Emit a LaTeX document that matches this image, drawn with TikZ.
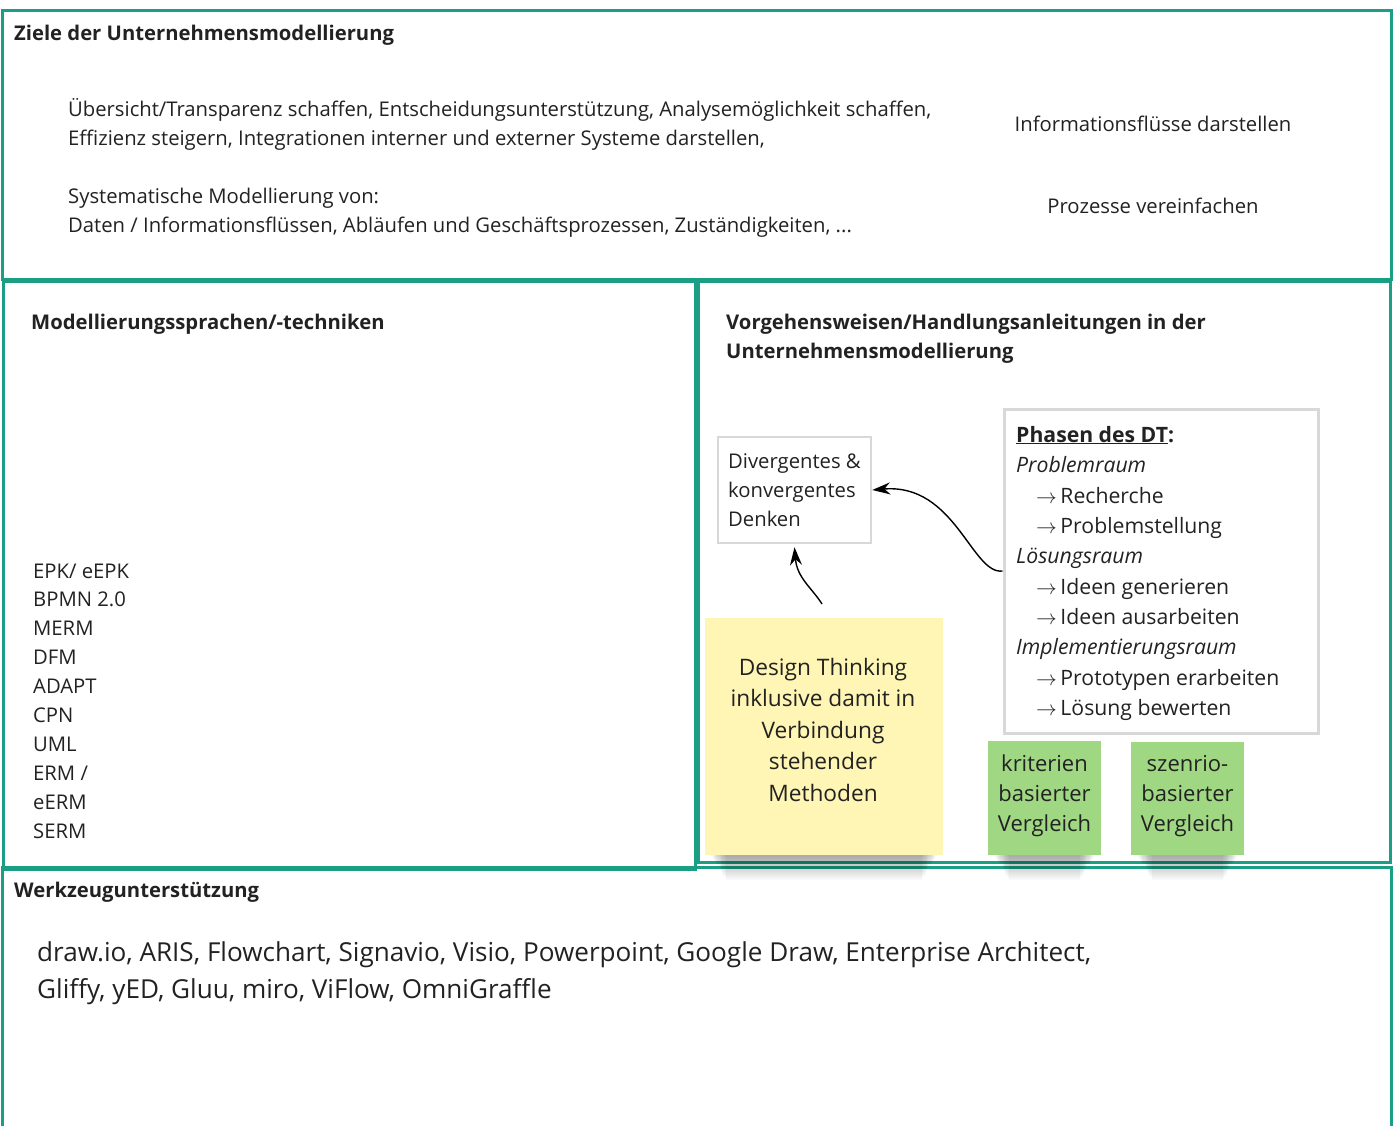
\documentclass[tikz,border=0pt]{standalone}
\usepackage{fontspec}
\setmainfont{Open Sans}
\usetikzlibrary{arrows.meta}
\definecolor{frame}{HTML}{1A9E84}
\definecolor{boxgray}{HTML}{D8D8D8}
\definecolor{stickyyellow}{HTML}{FFF6B5}
\definecolor{stickygreen}{HTML}{9FD783}
\definecolor{ink}{HTML}{222222}
\newcommand{\bodysize}{\fontsize{20.25}{24}\selectfont}
\newcommand{\phasesize}{\fontsize{21.2}{25}\selectfont}
\tikzset{
  panel/.style={draw=frame, line width=3pt},
  txt/.style={anchor=base west, inner sep=0pt, text=ink, font=\bodysize},
  head/.style={txt, font=\bodysize\bfseries},
  ctxt/.style={anchor=base, inner sep=0pt, text=ink, font=\bodysize},
  phase/.style={anchor=base west, inner sep=0pt, text=ink, font=\phasesize},
  sticky/.style={anchor=base, inner sep=0pt, text=ink},
  grayframe/.style={draw=boxgray, line width=3pt, fill=white},
  link/.style={line width=1.4pt, -{Stealth[length=18pt,width=12pt]}},
}
\newcommand{\ra}{$\rightarrow$\,}
\begin{document}
\begin{tikzpicture}[x=1pt,y=-1pt]
\useasboundingbox (0,0) rectangle (1395,1126);
\fill[white] (0,0) rectangle (1395,1126);

% panels
\begin{scope}
\clip (0,0) rectangle (1395,1126);
\draw[panel] (2,867) rectangle (1391,1140);
\end{scope}
\draw[panel] (2,11) rectangle (1391,279);
\draw[panel] (3,281) rectangle (695,869);
\draw[panel] (698,281) rectangle (1390,862);

% goals
\node[head] (zh) at (14,41) {Ziele der Unternehmensmodellierung};
\node[txt] (z1) at (68,117) {Übersicht/Transparenz schaffen, Entscheidungsunterstützung, Analysemöglichkeit schaffen,};
\node[txt] (z2) at (68,146) {Effizienz steigern, Integrationen interner und externer Systeme darstellen,};
\node[txt] (z3) at (68,204) {Systematische Modellierung von:};
\node[txt] (z4) at (68,233) {Daten / Informationsflüssen, Abläufen und Geschäftsprozessen, Zuständigkeiten, ...};
\node[ctxt] (z5) at (1153,132) {Informationsflüsse darstellen};
\node[ctxt] (z6) at (1153,214) {Prozesse vereinfachen};

% languages
\node[head] (mh) at (31,329) {Modellierungssprachen/-techniken};
\foreach \t [count=\i] in {EPK/ eEPK, BPMN 2.0, MERM, DFM, ADAPT, CPN, UML, ERM /, eERM, SERM}
  \node[txt] (m\i) at (33,{578+28.9*(\i-1)}) {\t};

% procedures
\node[head] (vh1) at (726,329) {Vorgehensweisen/Handlungsanleitungen in der};
\node[head] (vh2) at (726,358) {Unternehmensmodellierung};

\node[grayframe, line width=2.5pt, minimum width=153pt, minimum height=106pt] (div) at (794.5,490) {};
\node[txt] (d1) at (728,468) {Divergentes \&};
\node[txt] (d2) at (728,497) {konvergentes};
\node[txt] (d3) at (728,526) {Denken};

\node[grayframe, minimum width=314pt, minimum height=324pt] (phasen) at (1161,571) {};
\node[phase, font=\phasesize\bfseries] (p0) at (1016,442) {\underline{Phasen des DT}:};
\node[phase, font=\phasesize\itshape] (p1) at (1016,472) {Problemraum};
\node[phase] (p2) at (1036,503) {\ra Recherche};
\node[phase] (p3) at (1036,533) {\ra Problemstellung};
\node[phase, font=\phasesize\itshape] (p4) at (1016,563) {Lösungsraum};
\node[phase] (p5) at (1036,594) {\ra Ideen generieren};
\node[phase] (p6) at (1036,624) {\ra Ideen ausarbeiten};
\node[phase, font=\phasesize\itshape] (p7) at (1016,654) {Implementierungsraum};
\node[phase] (p8) at (1036,685) {\ra Prototypen erarbeiten};
\node[phase] (p9) at (1036,715) {\ra Lösung bewerten};

% soft shadows under the stickies
\foreach \xa/\xb/\yb in {705/943/853, 988/1101/853, 1131/1244/853}
  \foreach \k in {1,...,14}
    \fill[black, opacity=0.028] ({\xa+4+1.2*\k}, \yb) rectangle ({\xb-4-1.2*\k}, {\yb+1.9*\k});

% stickies
\fill[stickyyellow] (705,618) rectangle (943,855);
\node[inner sep=0pt, minimum width=238pt, minimum height=237pt] (dt) at (824,736.5) {};
\foreach \t [count=\i] in {Design Thinking, inklusive damit in, Verbindung, stehender, Methoden}
  \node[sticky, font=\fontsize{22.7}{27}\selectfont] (dt\i) at (823,{675+31.6*(\i-1)}) {\t};

\fill[stickygreen] (988,741) rectangle (1101,855);
\node[inner sep=0pt, minimum width=113pt, minimum height=114pt] (kv) at (1044.5,798) {};
\foreach \t [count=\i] in {kriterien, basierter, Vergleich}
  \node[sticky, font=\fontsize{22}{26}\selectfont] (kv\i) at (1044.5,{771+30*(\i-1)}) {\t};

\fill[stickygreen] (1131,742) rectangle (1244,855);
\node[inner sep=0pt, minimum width=113pt, minimum height=113pt] (sv) at (1187.5,798.5) {};
\foreach \t [count=\i] in {szenrio-, basierter, Vergleich}
  \node[sticky, font=\fontsize{22}{26}\selectfont] (sv\i) at (1187.5,{771+30*(\i-1)}) {\t};

% connectors
\coordinate (dtfoot) at (822,604);
\draw[link] (phasen.west) .. controls (972,575) and (955,483) .. (div.east);
\draw[link] (dtfoot) .. controls (812,588) and (797,578) .. ([yshift=-3pt]div.south);

% tools
\node[head] (wh) at (14,897) {Werkzeugunterstützung};
\node[txt, font=\fontsize{26.1}{31}\selectfont] (w1) at (37,961) {draw.io, ARIS, Flowchart, Signavio, Visio, Powerpoint, Google Draw, Enterprise Architect,};
\node[txt, font=\fontsize{26.1}{31}\selectfont] (w2) at (37,998) {Gliffy, yED, Gluu, miro, ViFlow, OmniGraffle};
\end{tikzpicture}
\end{document}
